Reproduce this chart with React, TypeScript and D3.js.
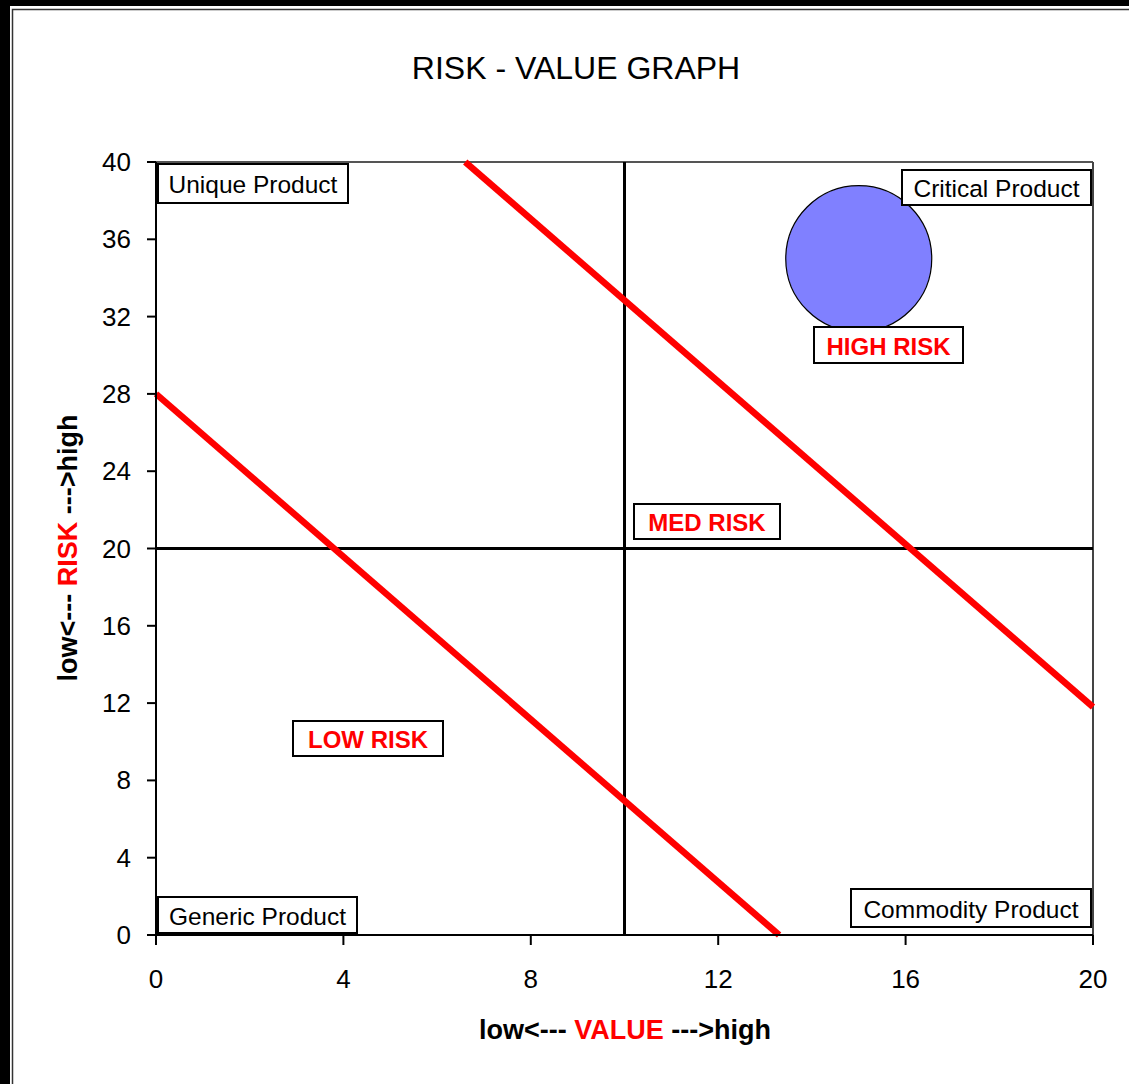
import React from "react";
import * as d3 from "d3";

// ---- data ----
const chartTitle = "RISK - VALUE GRAPH";
const xTicks = [0, 4, 8, 12, 16, 20];
const yTicks = [0, 4, 8, 12, 16, 20, 24, 28, 32, 36, 40];
const xDomain = [0, 20];
const yDomain = [0, 40];
const quadrantX = [10];
const quadrantY = [20];
const lowRiskLine = [
  { x: 0, y: 28 },
  { x: 13.3, y: 0 },
];
const highRiskLine = [
  { x: 6.6, y: 40 },
  { x: 20, y: 11.8 },
];
const bubbles = [{ x: 15, y: 35, size: 1 }];
const quadrantLabels = ["Unique Product", "Critical Product", "Generic Product", "Commodity Product"];
const riskLabels = ["HIGH RISK", "MED RISK", "LOW RISK"];

// ---- layout ----
const W = 1129;
const H = 1084;
const M = { left: 156, right: 1093, top: 162, bottom: 935 };
const FONT = "'Liberation Sans', Arial, Helvetica, sans-serif";

// label box rectangles (pixels): [x0, y0, x1, y1]
const quadrantBoxes = [
  [158, 164, 348, 203],
  [902, 170, 1091, 205],
  [158, 897, 357, 933],
  [851, 889, 1091, 927],
];
const riskBoxes = [
  [814, 327, 963, 363],
  [634, 504, 780, 539],
  [293, 721, 443, 756],
];

export default function App() {
  const x = d3.scaleLinear().domain(xDomain).range([M.left, M.right]);
  const y = d3.scaleLinear().domain(yDomain).range([M.bottom, M.top]);
  const r = d3.scaleSqrt().domain([0, 1]).range([0, 73]);
  const line = d3
    .line<{ x: number; y: number }>()
    .x((d) => x(d.x))
    .y((d) => y(d.y));

  return (
    <svg
      width={W}
      height={H}
      style={{ position: "absolute", left: 0, top: 0, background: "#fff" }}
      fontFamily={FONT}
    >
      <rect x={0} y={0} width={W} height={H} fill="#fff" />
      {/* outer frame */}
      <rect x={0} y={0} width={10} height={H} fill="#000" />
      <rect x={0} y={0} width={W} height={6} fill="#000" />
      <rect x={12.5} y={9.5} width={W + 20} height={H + 20} fill="none" stroke="#333" strokeWidth={1.5} />

      {/* title */}
      <text x={576} y={68} textAnchor="middle" dominantBaseline="central" fontSize={32} fill="#000">
        {chartTitle}
      </text>

      {/* plot area border (top, right) */}
      <line x1={M.left} x2={M.right} y1={M.top} y2={M.top} stroke="#555" strokeWidth={2} />
      <line x1={M.right} x2={M.right} y1={M.top} y2={M.bottom} stroke="#444" strokeWidth={2} />

      {/* quadrant dividers */}
      {quadrantX.map((v) => (
        <line key={"qx" + v} x1={x(v)} x2={x(v)} y1={M.top} y2={M.bottom} stroke="#000" strokeWidth={3} />
      ))}
      {quadrantY.map((v) => (
        <line key={"qy" + v} x1={M.left} x2={M.right} y1={y(v)} y2={y(v)} stroke="#000" strokeWidth={3} />
      ))}

      {/* risk lines */}
      <path d={line(lowRiskLine) || ""} stroke="#ff0000" strokeWidth={6.5} fill="none" />
      <path d={line(highRiskLine) || ""} stroke="#ff0000" strokeWidth={6.5} fill="none" />

      {/* bubble */}
      {bubbles.map((b, i) => (
        <circle key={i} cx={x(b.x)} cy={y(b.y)} r={r(b.size)} fill="#8080ff" stroke="#000" strokeWidth={1.2} />
      ))}

      {/* axes */}
      <line x1={M.left} x2={M.left} y1={M.top} y2={M.bottom} stroke="#000" strokeWidth={2} />
      <line x1={M.left} x2={M.right} y1={M.bottom} y2={M.bottom} stroke="#000" strokeWidth={2} />
      {yTicks.map((t) => (
        <g key={"yt" + t}>
          <line x1={M.left - 9} x2={M.left} y1={y(t)} y2={y(t)} stroke="#000" strokeWidth={2} />
          <text x={131} y={y(t)} textAnchor="end" dominantBaseline="central" fontSize={26} fill="#000">
            {t}
          </text>
        </g>
      ))}
      {xTicks.map((t) => (
        <g key={"xt" + t}>
          <line x1={x(t)} x2={x(t)} y1={M.bottom} y2={M.bottom + 10} stroke="#000" strokeWidth={2} />
          <text x={x(t)} y={979} textAnchor="middle" dominantBaseline="central" fontSize={26} fill="#000">
            {t}
          </text>
        </g>
      ))}

      {/* axis titles */}
      <text x={625} y={1030} textAnchor="middle" dominantBaseline="central" fontSize={27} fontWeight="bold" fill="#000">
        <tspan>{"low<--- "}</tspan>
        <tspan fill="#ff0000">VALUE</tspan>
        <tspan>{" --->high"}</tspan>
      </text>
      <text
        transform={`translate(68,548) rotate(-90)`}
        textAnchor="middle"
        dominantBaseline="central"
        fontSize={27}
        fontWeight="bold"
        fill="#000"
      >
        <tspan>{"low<--- "}</tspan>
        <tspan fill="#ff0000">RISK</tspan>
        <tspan>{" --->high"}</tspan>
      </text>

      {/* quadrant labels */}
      {quadrantLabels.map((lab, i) => {
        const [x0, y0, x1, y1] = quadrantBoxes[i];
        return (
          <g key={lab}>
            <rect x={x0} y={y0} width={x1 - x0} height={y1 - y0} fill="#fff" stroke="#000" strokeWidth={2} />
            <text
              x={(x0 + x1) / 2}
              y={(y0 + y1) / 2 + 1}
              textAnchor="middle"
              dominantBaseline="central"
              fontSize={24.5}
              fill="#000"
            >
              {lab}
            </text>
          </g>
        );
      })}

      {/* risk labels */}
      {riskLabels.map((lab, i) => {
        const [x0, y0, x1, y1] = riskBoxes[i];
        return (
          <g key={lab}>
            <rect x={x0} y={y0} width={x1 - x0} height={y1 - y0} fill="#fff" stroke="#000" strokeWidth={2} />
            <text
              x={(x0 + x1) / 2}
              y={(y0 + y1) / 2 + 1}
              textAnchor="middle"
              dominantBaseline="central"
              fontSize={24}
              fontWeight="bold"
              fill="#ff0000"
            >
              {lab}
            </text>
          </g>
        );
      })}
    </svg>
  );
}
